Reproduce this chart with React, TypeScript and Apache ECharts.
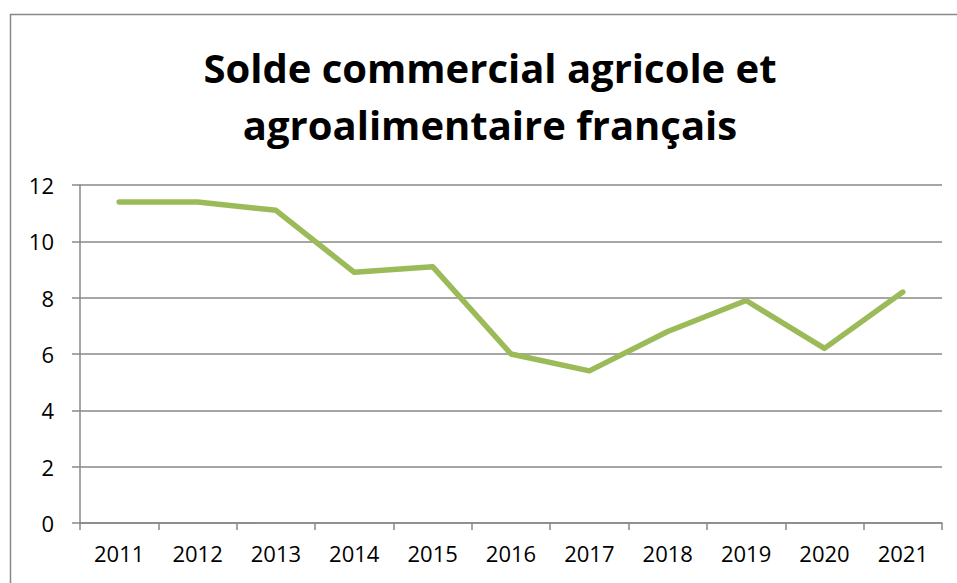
import React, { useEffect, useRef } from "react";
import * as echarts from "echarts";

const years = ["2011", "2012", "2013", "2014", "2015", "2016", "2017", "2018", "2019", "2020", "2021"];
const solde = [11.4, 11.4, 11.1, 8.9, 9.1, 6.0, 5.4, 6.8, 7.9, 6.2, 8.2];
const titleText = "Solde commercial agricole et\nagroalimentaire français";

export default function App() {
  const ref = useRef<HTMLDivElement>(null);
  useEffect(() => {
    if (!ref.current) return;
    const chart = echarts.init(ref.current, null, { renderer: "svg" });
    const gray = "#888888";
    chart.setOption({
      animation: false,
      backgroundColor: "#ffffff",
      graphic: [
        {
          type: "rect",
          shape: { x: 10.5, y: 14.5, width: 1000, height: 700 },
          style: { fill: "none", stroke: gray, lineWidth: 1.5 },
          silent: true,
        },
        {
          type: "text",
          x: 490,
          y: 96,
          style: {
            text: titleText,
            align: "center",
            verticalAlign: "middle",
            fontFamily: "Open Sans",
            fontWeight: "bold",
            fontSize: 40,
            lineHeight: 57,
            fill: "#000000",
          },
        },
      ],
      grid: { left: 80, right: 15, top: 185, bottom: 60 },
      xAxis: {
        type: "category",
        data: years,
        boundaryGap: true,
        axisLine: { lineStyle: { color: gray, width: 1.5 } },
        axisTick: { show: true, length: 7, alignWithLabel: false, lineStyle: { color: gray, width: 1.5 } },
        axisLabel: { color: "#000", fontFamily: "Open Sans", fontSize: 22, margin: 19 },
      },
      yAxis: {
        type: "value",
        min: 0,
        max: 12,
        interval: 2,
        axisLine: { show: true, lineStyle: { color: gray, width: 1.5 } },
        axisTick: { show: true, length: 8, lineStyle: { color: gray, width: 1.5 } },
        splitLine: { lineStyle: { color: gray, width: 1.5 } },
        axisLabel: { color: "#000", fontFamily: "Open Sans", fontSize: 22, margin: 26 },
      },
      series: [
        {
          type: "line",
          data: solde,
          symbol: "none",
          lineStyle: { color: "#9BBB59", width: 5.5, cap: "round", join: "round" },
        },
      ],
    });
    return () => chart.dispose();
  }, []);
  return (
    <div
      ref={ref}
      style={{ position: "fixed", left: 0, top: 0, width: 957, height: 583 }}
    />
  );
}
